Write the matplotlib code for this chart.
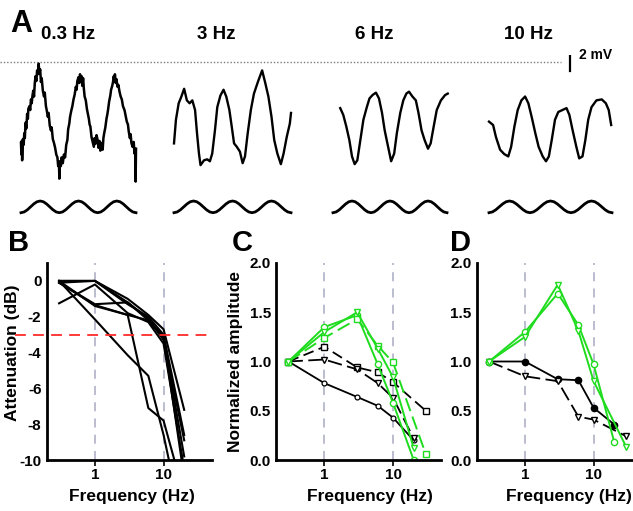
import numpy as np
import matplotlib
matplotlib.use('Agg')
import matplotlib.pyplot as plt

plt.rcParams['font.family'] = ['Liberation Sans', 'DejaVu Sans']
plt.rcParams['font.weight'] = 'bold'
plt.rcParams['axes.labelweight'] = 'bold'
plt.rcParams['axes.unicode_minus'] = False

# ---------------- data ----------------
# panel A: membrane potential traces (mV relative to dotted line), time in stimulus cycles
stim_labels = ['0.3 Hz', '3 Hz', '6 Hz', '10 Hz']

t_03 = [0.00, 0.01, 0.02, 0.03, 0.05, 0.07, 0.085, 0.10, 0.12, 0.14, 0.16, 0.18, 0.19, 0.22, 0.24,
        0.26, 0.28, 0.30, 0.32, 0.34, 0.36, 0.38, 0.40, 0.42, 0.44, 0.46, 0.48, 0.50, 0.52, 0.54,
        0.57, 0.60, 0.62, 0.65, 0.67, 0.70, 0.72, 0.75, 0.78, 0.80, 0.83, 0.86, 0.89, 0.92, 0.95,
        0.97, 0.99, 1.00, 1.01, 1.04, 1.06, 1.09, 1.12, 1.15, 1.18, 1.21, 1.23, 1.26, 1.28, 1.31,
        1.34, 1.37, 1.40, 1.43, 1.45, 1.47, 1.50, 1.52, 1.54, 1.56, 1.58, 1.60, 1.62, 1.64, 1.66,
        1.69, 1.72, 1.74, 1.77, 1.79, 1.81, 1.84, 1.87, 1.90, 1.92, 1.94, 1.97, 2.00, 2.02, 2.05,
        2.07, 2.09, 2.11, 2.13, 2.15, 2.17, 2.20, 2.23, 2.25, 2.27, 2.30, 2.33, 2.35, 2.38, 2.40,
        2.42, 2.44, 2.45, 2.47, 2.49, 2.52, 2.54, 2.57, 2.60, 2.63, 2.66, 2.70, 2.73, 2.76, 2.79,
        2.81, 2.84, 2.86, 2.88, 2.91, 2.94, 2.96, 2.98, 2.99, 3.00]
v_03 = [-8.4, -9.6, -8.2, -10.2, -8.0, -8.6, -7.4, -7.9, -6.3, -6.9, -5.4, -5.9, -4.9, -4.6, -5.0,
        -3.9, -4.3, -3.5, -3.0, -3.6, -2.2, -1.5, -2.0, -0.9, -1.3, -0.2, -1.2, -0.8, -2.1, -1.7,
        -3.0, -3.6, -3.2, -4.6, -5.0, -5.7, -5.3, -6.6, -7.1, -6.8, -8.0, -8.4, -8.9, -9.6, -9.9,
        -10.8, -10.4, -12.1, -10.3, -10.8, -9.9, -10.5, -9.6, -9.9, -8.6, -8.1, -7.0, -6.4, -5.7, -5.1,
        -4.6, -3.9, -3.4, -2.6, -2.9, -2.0, -1.6, -2.2, -1.3, -1.9, -1.5, -2.5, -1.7, -2.8, -3.6,
        -4.0, -4.9, -5.3, -5.9, -6.5, -6.7, -7.8, -8.3, -8.8, -7.9, -8.5, -7.6, -8.1, -8.9, -8.2,
        -9.2, -9.0, -8.4, -9.1, -7.9, -7.4, -6.8, -5.9, -5.5, -5.0, -4.1, -3.5, -2.9, -2.5, -2.1,
        -1.5, -2.0, -1.3, -2.2, -1.8, -2.6, -2.4, -3.1, -3.6, -3.9, -4.6, -5.0, -5.6, -6.2, -6.5,
        -7.2, -7.9, -7.5, -8.4, -8.8, -8.3, -9.5, -9.1, -12.4, -9.0]

t_3 = [0.00, 0.05, 0.12, 0.19, 0.26, 0.33, 0.40, 0.47, 0.54, 0.59, 0.64, 0.68, 0.77, 0.85, 0.92,
       0.98, 1.05, 1.11, 1.19, 1.27, 1.34, 1.42, 1.48, 1.54, 1.61, 1.69, 1.76, 1.82, 1.89, 1.97,
       2.05, 2.15, 2.26, 2.34, 2.42, 2.50, 2.57, 2.65, 2.74, 2.81, 2.89, 2.97, 3.00]
v_3 = [-8.45, -6.0, -4.3, -3.6, -2.8, -4.0, -4.3, -4.0, -5.0, -7.4, -9.5, -10.7, -10.2, -10.1, -10.3,
       -9.5, -7.1, -4.7, -3.5, -2.9, -3.6, -5.0, -6.7, -8.45, -8.8, -9.3, -10.5, -9.8, -7.4, -5.0,
       -3.3, -2.1, -0.9, -2.2, -3.6, -5.7, -8.1, -9.5, -10.6, -9.5, -7.8, -6.4, -5.3]

t_6 = [0.19, 0.27, 0.35, 0.43, 0.50, 0.57, 0.64, 0.72, 0.80, 0.89, 0.96, 1.04, 1.13, 1.21, 1.29,
       1.36, 1.45, 1.53, 1.61, 1.68, 1.77, 1.85, 1.93, 2.00, 2.09, 2.18, 2.25, 2.33, 2.41, 2.50,
       2.57, 2.65, 2.73, 2.84, 2.95, 3.02]
v_6 = [-4.8, -5.5, -6.7, -8.1, -9.8, -10.6, -10.2, -8.1, -6.0, -4.7, -3.8, -3.45, -3.2, -3.8, -5.3,
       -7.1, -8.8, -10.3, -9.5, -7.4, -5.3, -4.0, -3.3, -3.1, -3.6, -4.0, -5.3, -7.1, -8.1, -9.0,
       -8.45, -6.7, -5.0, -4.0, -3.45, -3.3]

t_10 = [0.00, 0.10, 0.17, 0.27, 0.37, 0.47, 0.54, 0.62, 0.70, 0.79, 0.88, 0.96, 1.04, 1.13, 1.21,
        1.31, 1.39, 1.46, 1.53, 1.61, 1.69, 1.79, 1.89, 1.96, 2.04, 2.13, 2.20, 2.28, 2.35, 2.42,
        2.50, 2.62, 2.75, 2.85, 2.92, 2.98]
v_10 = [-6.2, -6.55, -7.8, -9.1, -9.55, -9.8, -8.8, -6.7, -5.0, -4.0, -3.6, -4.3, -5.7, -7.4, -8.8,
        -9.8, -10.3, -9.8, -8.1, -6.0, -5.2, -5.0, -4.8, -5.5, -7.1, -8.8, -10.0, -9.8, -8.1, -6.0,
        -4.7, -4.0, -3.9, -4.3, -5.0, -6.55]

# stimulus waveform (normalised), three cycles
stim_wave = [-1, -0.87, -0.5, 0, 0.5, 0.87, 1, 0.87, 0.5, 0, -0.5, -0.87,
             -1, -0.87, -0.5, 0, 0.5, 0.87, 1, 0.87, 0.5, 0, -0.5, -0.87,
             -1, -0.87, -0.5, 0, 0.5, 0.87, 1, 0.87, 0.5, 0, -0.5, -0.87, -1]

# panel B: attenuation (dB) per cell
freq_b = [0.3, 1, 3, 6, 10, 20]
att_cells = [
    [0.0, 0.0, -1.0, -1.9, -2.7, -7.2],
    [-0.1, 0.0, -1.3, -2.0, -3.0, -8.6],
    [-0.1, -1.3, -1.2, -2.1, -3.3, -8.9],
    [-1.25, -0.2, -1.8, -2.3, -3.5, -10.5],
    [0.0, -1.4, -1.9, -2.2, -3.1, -11.0],
    [0.0, -2.15, -4.15, -5.3, -8.6, -14.0],
    [-0.1, -1.35, -1.9, -7.1, -7.8, -12.0],
    [0.0, 0.0, -1.2, -2.2, -3.2, -9.8],
]

# panel C: normalized amplitude
fc_20 = [0.3, 1, 3, 6, 10, 20]
fc_30 = [0.3, 1, 3, 6, 10, 30]
c_green_circ = [1.0, 1.35, 1.47, 0.97, 0.58, 0.0]
c_green_sq = [1.0, 1.24, 1.43, 1.16, 0.99, 0.06]
c_green_tri = [1.0, 1.30, 1.50, 1.13, 0.84, 0.12]
c_black_circ = [1.0, 0.78, 0.64, 0.55, 0.43, 0.20]
c_black_sq = [1.0, 1.15, 0.94, 0.89, 0.79, 0.50]
c_black_tri = [1.0, 1.02, 0.92, 0.78, 0.63, 0.22]

# panel D
d_green_circ = [1.0, 1.30, 1.69, 1.37, 0.97, 0.18]
d_green_tri = [1.0, 1.25, 1.78, 1.31, 0.80, 0.13]
d_black_circ = [1.0, 1.0, 0.82, 0.81, 0.53, 0.36]
d_black_tri = [1.0, 0.85, 0.80, 0.44, 0.41, 0.24]

# ---------------- figure ----------------
W, H = 633, 511
fig = plt.figure(figsize=(W / 100, H / 100), dpi=100)


def box(l, t, r, b):
    return [l / W, 1 - b / H, (r - l) / W, (b - t) / H]


green = '#1fdc1f'
px_per_mv = 9.667
top_px, bot_px, zero_px = 55, 190, 61.7
ylim_a = (-(bot_px - zero_px) / px_per_mv, (zero_px - top_px) / px_per_mv)

# background of panel A: threshold line and scale bar
axA = fig.add_axes(box(0, top_px, W, bot_px))
axA.set_xlim(0, 1)
axA.set_ylim(*ylim_a)
axA.axis('off')
axA.axhline(0, xmin=0, xmax=561 / W, color='#7a7a7a', lw=1.0, ls=(0, (1, 1.4)))
axA.plot([570 / W, 570 / W], [1.0, -1.0], color='k', lw=1.6)
axA.text(579 / W, 0.65, '2 mV', fontsize=10, va='center', ha='left')

trace_x = [(21, 136), (174, 291), (333, 447), (489, 612)]
traces = [(t_03, v_03), (t_3, v_3), (t_6, v_6), (t_10, v_10)]
trace_lw = [1.8, 1.7, 1.7, 1.7]
for (l, r), (tt, vv), lw in zip(trace_x, traces, trace_lw):
    ax = fig.add_axes(box(l, top_px, r, bot_px))
    ax.plot(tt, vv, color='k', lw=lw, clip_on=False)
    ax.set_xlim(0, 3)
    ax.set_ylim(*ylim_a)
    ax.axis('off')
    axs = fig.add_axes(box(l, 201, r, 212.7))
    axs.plot(np.linspace(0, 3, len(stim_wave)), stim_wave, color='k', lw=2.0, clip_on=False)
    axs.set_xlim(0, 3)
    axs.set_ylim(-1, 1)
    axs.axis('off')

fig.text(10 / W, 1 - 32 / H, 'A', fontsize=22, fontweight='bold', va='baseline')
for x, lab in zip([68, 216, 374, 528], stim_labels):
    fig.text(x / W, 1 - 39 / H, lab, fontsize=13.5, ha='center', va='baseline')


def style(ax, ylab=None, ylab_x=-0.2, ylab_y=0.5, xlab_x=0.5):
    for s in ['top', 'right']:
        ax.spines[s].set_visible(False)
    for s in ['left', 'bottom']:
        ax.spines[s].set_linewidth(2)
    ax.set_xscale('log')
    ax.set_xlim(0.2, 50)
    ax.set_xticks([1, 10])
    ax.set_xticklabels(['1', '10'])
    ax.minorticks_off()
    ax.tick_params(axis='x', length=4, width=1.2, labelsize=11, pad=2)
    ax.tick_params(axis='y', length=0, labelsize=11, pad=4)
    for xv in [1, 10]:
        ax.axvline(xv, color='#b6b6cc', lw=1.3, ls=(0, (5, 4)), zorder=0)
    ax.set_xlabel('Frequency (Hz)', fontsize=12.5)
    ax.xaxis.set_label_coords(xlab_x, -0.145)
    if ylab:
        ax.set_ylabel(ylab, fontsize=12.5)
        ax.yaxis.set_label_coords(ylab_x, ylab_y)


# panel B
axB = fig.add_axes(box(47, 263, 211.5, 460))
for att in att_cells:
    axB.plot(freq_b, att, color='k', lw=1.5)
axB.axhline(-3, xmin=-0.195, xmax=1.0, color='#ff2a2a', lw=1.3, ls=(0, (6, 4)), clip_on=False)
axB.set_ylim(-10, 1)
axB.set_yticks([0, -2, -4, -6, -8, -10])
axB.set_yticklabels(['0', '-2', '-4', '-6', '-8', '-10'])
style(axB, 'Attenuation (dB)', ylab_x=-0.165, ylab_y=0.543, xlab_x=0.517)

mk = dict(ms=4.5, mew=1.0, mfc='white')

# panel C
axC = fig.add_axes(box(276.4, 263, 441, 460))
axC.plot(fc_20, c_black_circ, color='k', lw=1.3, marker='o', ms=3.5, mew=0.9, mfc='white')
axC.plot(fc_30, c_black_sq, color='k', lw=1.3, marker='s', ls=(0, (6, 3)), **mk)
axC.plot(fc_20, c_black_tri, color='k', lw=1.3, marker='v', ls=(0, (8, 3)), **mk)
axC.plot(fc_20, c_green_circ, color=green, lw=1.4, marker='o', **mk)
axC.plot(fc_30, c_green_sq, color=green, lw=1.4, marker='s', ls=(0, (7, 3)), **mk)
axC.plot(fc_20, c_green_tri, color=green, lw=1.4, marker='v', **mk)
axC.set_ylim(0, 2)
axC.set_yticks([0, 0.5, 1, 1.5, 2])
axC.set_yticklabels(['0.0', '0.5', '1.0', '1.5', '2.0'])
style(axC, 'Normalized amplitude', ylab_x=-0.205, ylab_y=0.5, xlab_x=0.569)

# panel D
axD = fig.add_axes(box(477, 263, 641.6, 460))
axD.plot(fc_20, d_black_circ, color='k', lw=1.3, marker='o', ms=4.5, mew=1.0, mfc='k')
axD.plot(fc_30, d_black_tri, color='k', lw=1.3, marker='v', ls=(0, (8, 3)), **mk)
axD.plot(fc_20, d_green_circ, color=green, lw=1.4, marker='o', **mk)
axD.plot(fc_30, d_green_tri, color=green, lw=1.4, marker='v', **mk)
axD.set_ylim(0, 2)
axD.set_yticks([0, 0.5, 1, 1.5, 2])
axD.set_yticklabels(['0.0', '0.5', '1.0', '1.5', '2.0'])
style(axD, None, xlab_x=0.559)

for lab, x in zip(['B', 'C', 'D'], [8, 232, 450]):
    fig.text(x / W, 1 - 251 / H, lab, fontsize=21, fontweight='bold', va='baseline')

fig.savefig('out.png', dpi=100)
